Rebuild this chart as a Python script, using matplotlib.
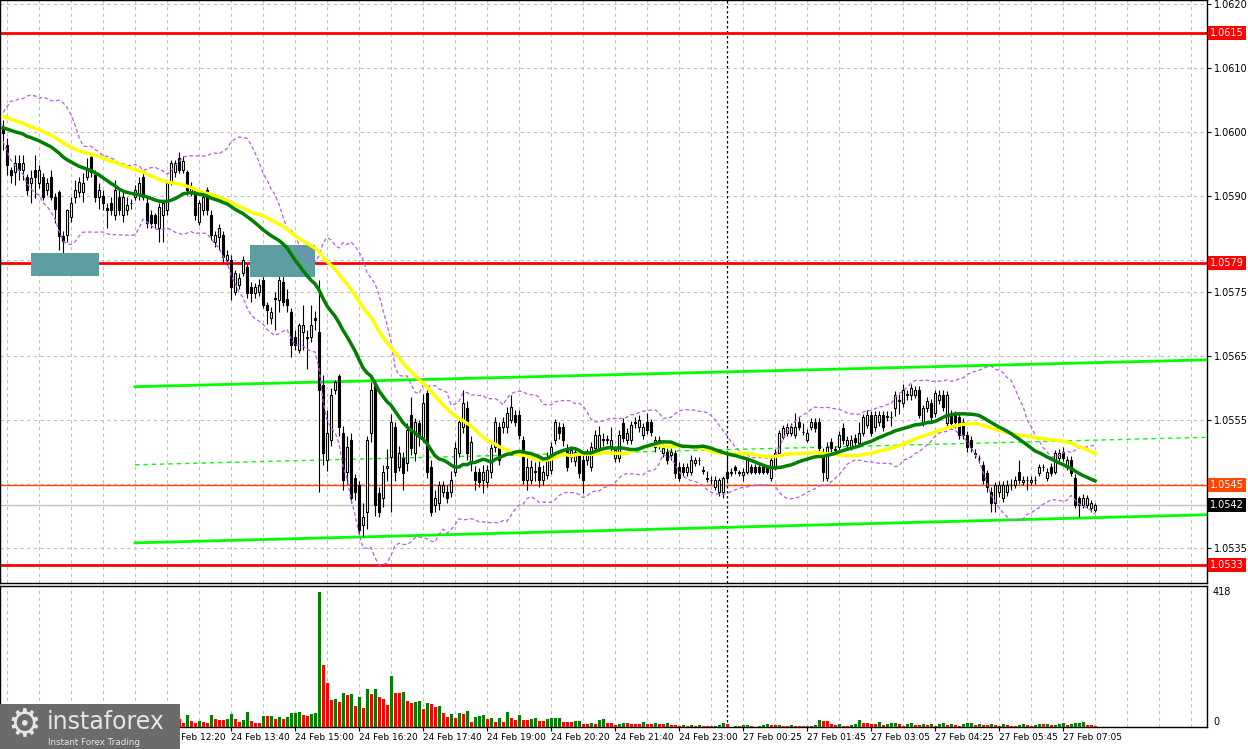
import numpy as np
import pandas as pd
import matplotlib.pyplot as plt
from matplotlib.patches import Rectangle
from matplotlib.transforms import blended_transform_factory

# M5 candles, prices in points above 1.05000 (1 point = 0.00001)
opens = [1008, 980, 941, 938, 952, 941, 930, 920, 941, 920, 930, 909, 930, 898, 906, 838, 839, 867, 898, 906,
         906, 930, 961, 933, 898, 900, 882, 889, 870, 898, 870, 878, 889, 898, 902, 930, 889, 870, 870, 850,
         870, 878, 920, 938, 959, 941, 938, 906, 909, 859, 878, 909, 870, 828, 836, 839, 800, 800, 750, 761,
         780, 789, 758, 748, 750, 769, 730, 709, 739, 738, 765, 739, 719, 680, 659, 688, 680, 680, 709, 688,
         605, 488, 519, 597, 619, 530, 469, 519, 459, 448, 386, 406, 530, 608, 436, 428, 475, 492, 539, 477,
         491, 483, 558, 498, 545, 523, 592, 477, 417, 420, 438, 438, 438, 469, 498, 539, 569, 485, 469, 469,
         456, 453, 469, 508, 539, 539, 539, 550, 558, 558, 519, 456, 456, 470, 477, 456, 464, 472, 519, 539,
         539, 506, 492, 486, 498, 488, 488, 477, 506, 506, 520, 519, 506, 491, 491, 545, 519, 519, 546, 539,
         527, 547, 547, 508, 519, 498, 500, 495, 498, 477, 477, 469, 469, 483, 488, 472, 459, 456, 445, 438,
         438, 469, 467, 477, 467, 464, 469, 477, 477, 477, 477, 477, 459, 477, 498, 523, 530, 530, 527, 547,
         531, 519, 539, 547, 547, 500, 459, 516, 503, 508, 538, 511, 508, 522, 514, 530, 542, 558, 539, 547,
         558, 555, 555, 569, 580, 577, 590, 589, 589, 597, 547, 569, 577, 561, 581, 589, 545, 558, 558, 555,
         547, 527, 519, 498, 491, 480, 467, 438, 420, 438, 428, 438, 448, 448, 469, 453, 456, 453, 456, 467,
         477, 459, 477, 469, 491, 500, 477, 488, 459, 428, 417, 417, 412, 409]
highs = [1019, 990, 945, 964, 964, 964, 935, 941, 964, 948, 936, 928, 941, 905, 910, 845, 880, 898, 925, 930,
         936, 959, 962, 941, 920, 909, 889, 898, 925, 909, 909, 898, 895, 917, 930, 938, 898, 878, 873, 889,
         894, 925, 956, 956, 969, 962, 941, 922, 912, 894, 906, 914, 878, 845, 856, 845, 816, 808, 785, 780,
         806, 795, 765, 764, 770, 780, 735, 727, 750, 787, 775, 755, 725, 690, 702, 730, 690, 730, 720, 769,
         620, 566, 600, 613, 622, 540, 525, 530, 466, 455, 420, 525, 610, 613, 445, 480, 505, 560, 547, 510,
         500, 545, 586, 553, 550, 590, 597, 488, 440, 455, 455, 448, 470, 515, 555, 597, 580, 525, 478, 475,
         480, 480, 512, 555, 547, 555, 570, 589, 566, 566, 525, 490, 488, 485, 490, 480, 500, 515, 552, 547,
         545, 512, 510, 508, 505, 495, 505, 515, 534, 540, 530, 527, 539, 510, 534, 553, 537, 548, 555, 558,
         545, 561, 552, 525, 525, 512, 506, 506, 503, 485, 483, 483, 495, 492, 492, 478, 470, 462, 462, 460,
         462, 500, 475, 480, 472, 475, 492, 482, 482, 480, 480, 480, 492, 505, 534, 542, 545, 545, 561, 555,
         545, 536, 553, 553, 553, 506, 516, 522, 510, 533, 545, 525, 527, 528, 547, 560, 566, 564, 564, 564,
         564, 564, 564, 595, 590, 606, 597, 606, 603, 603, 574, 586, 583, 597, 597, 597, 595, 565, 564, 561,
         553, 533, 525, 505, 496, 486, 472, 445, 453, 455, 455, 456, 458, 462, 488, 462, 462, 462, 462, 482,
         482, 475, 483, 503, 505, 508, 494, 493, 465, 432, 435, 433, 425, 420]
lows = [972, 933, 920, 917, 925, 925, 902, 889, 897, 912, 894, 902, 894, 858, 816, 808, 828, 860, 889, 898,
        890, 925, 930, 890, 880, 878, 850, 870, 863, 870, 859, 870, 880, 894, 894, 894, 850, 850, 850, 828,
        828, 870, 917, 930, 936, 936, 902, 900, 863, 855, 870, 870, 831, 820, 816, 795, 792, 738, 745, 755,
        775, 740, 735, 740, 744, 725, 700, 700, 691, 719, 728, 719, 648, 660, 655, 659, 630, 672, 690, 438,
        480, 470, 510, 590, 525, 440, 450, 420, 425, 372, 367, 380, 515, 400, 398, 414, 455, 406, 455, 470,
        440, 470, 495, 486, 510, 515, 460, 400, 406, 410, 430, 420, 430, 462, 492, 530, 488, 470, 440, 445,
        436, 445, 460, 500, 480, 530, 530, 545, 540, 520, 450, 440, 450, 455, 445, 448, 458, 465, 512, 520,
        510, 470, 485, 478, 460, 436, 480, 470, 500, 500, 510, 512, 500, 485, 485, 515, 512, 512, 538, 532,
        520, 528, 525, 500, 505, 492, 482, 488, 460, 455, 462, 462, 464, 478, 480, 466, 453, 450, 440, 432,
        428, 455, 462, 466, 462, 455, 465, 465, 465, 465, 465, 465, 455, 472, 495, 520, 525, 525, 522, 535,
        527, 515, 535, 532, 500, 455, 455, 500, 495, 503, 513, 505, 503, 510, 508, 525, 538, 525, 533, 540,
        533, 548, 540, 556, 560, 570, 582, 582, 584, 553, 540, 562, 548, 555, 575, 564, 540, 538, 538, 520,
        520, 500, 500, 490, 483, 450, 438, 406, 406, 430, 422, 432, 440, 443, 450, 448, 440, 448, 450, 462,
        470, 455, 462, 465, 486, 486, 472, 462, 412, 398, 412, 412, 406, 406]
closes = [998, 948, 933, 952, 941, 952, 909, 928, 930, 941, 898, 920, 898, 880, 838, 830, 878, 889, 909, 922,
          920, 941, 938, 898, 909, 889, 878, 878, 909, 878, 898, 886, 889, 909, 920, 898, 858, 858, 858, 883,
          889, 920, 952, 952, 941, 954, 909, 914, 870, 889, 898, 878, 839, 839, 850, 805, 808, 758, 780, 772,
          800, 748, 748, 758, 761, 730, 722, 719, 741, 769, 734, 730, 667, 667, 698, 698, 678, 698, 707, 597,
          498, 530, 589, 609, 539, 456, 508, 428, 438, 378, 398, 519, 597, 417, 406, 469, 478, 547, 469, 498,
          467, 534, 506, 547, 523, 577, 469, 406, 428, 448, 448, 428, 456, 506, 547, 577, 498, 516, 456, 453,
          469, 472, 506, 547, 488, 547, 561, 570, 547, 527, 456, 477, 477, 469, 456, 469, 491, 508, 547, 530,
          519, 477, 503, 500, 467, 456, 498, 508, 527, 527, 519, 520, 519, 503, 527, 522, 530, 542, 547, 550,
          539, 534, 531, 519, 511, 506, 488, 500, 467, 459, 469, 477, 488, 488, 487, 471, 458, 457, 456, 456,
          459, 459, 469, 472, 468, 469, 488, 469, 469, 469, 469, 469, 488, 498, 530, 538, 539, 539, 539, 539,
          532, 530, 547, 538, 506, 469, 508, 506, 504, 527, 519, 519, 519, 516, 530, 555, 558, 530, 558, 558,
          539, 556, 554, 589, 581, 597, 589, 600, 597, 558, 569, 580, 555, 592, 589, 570, 589, 545, 547, 527,
          527, 508, 508, 497, 490, 456, 445, 420, 448, 448, 448, 448, 449, 456, 456, 456, 457, 456, 457, 477,
          476, 469, 467, 498, 498, 491, 488, 467, 417, 417, 428, 428, 420, 417]
volumes = [30, 42, 35, 28, 33, 25, 38, 30, 27, 40, 33, 29, 36, 45, 52, 40, 36, 30, 28, 33,
           26, 31, 38, 29, 25, 34, 22, 27, 30, 24, 36, 21, 19, 28, 33, 40, 37, 25, 31, 28,
           35, 26, 24, 30, 26, 12, 38, 20, 12, 20, 16, 13, 38, 26, 23, 22, 26, 41, 26, 16,
           23, 46, 20, 13, 12, 35, 34, 35, 26, 32, 26, 32, 43, 44, 47, 38, 35, 41, 42, 418,
           190, 137, 82, 85, 78, 106, 100, 101, 66, 94, 60, 118, 103, 118, 94, 88, 69, 159, 106, 105,
           109, 81, 75, 78, 79, 57, 75, 72, 63, 66, 44, 32, 41, 29, 44, 41, 50, 16, 32, 35,
           38, 26, 29, 16, 29, 16, 47, 29, 23, 38, 23, 22, 26, 27, 20, 19, 26, 27, 28, 29,
           16, 15, 14, 19, 20, 10, 9, 13, 10, 23, 24, 13, 12, 7, 10, 12, 11, 10, 9, 8,
           16, 10, 9, 13, 10, 9, 13, 7, 6, 4, 7, 4, 7, 4, 6, 4, 3, 2, 4, 7,
           13, 10, 1, 4, 4, 5, 7, 4, 1, 4, 7, 10, 7, 6, 7, 4, 3, 5, 4, 4,
           3, 4, 3, 6, 23, 19, 18, 10, 7, 10, 4, 3, 7, 10, 23, 13, 12, 10, 9, 16,
           7, 10, 11, 12, 9, 4, 10, 11, 7, 6, 10, 7, 10, 4, 10, 11, 7, 10, 7, 4,
           10, 11, 12, 7, 10, 7, 6, 10, 7, 3, 10, 7, 4, 2, 7, 10, 7, 4, 7, 10,
           8, 9, 6, 7, 8, 11, 7, 10, 11, 13, 14, 6, 5, 2]
# estimated closes before the visible window, only used to start the indicators
warmup_closes = [1.06062, 1.06048, 1.06055, 1.06040, 1.06058, 1.06050, 1.06065, 1.06045, 1.06052, 1.06038,
                 1.06060, 1.06047, 1.06054, 1.06043, 1.06051, 1.06058, 1.06042, 1.06049, 1.06056, 1.06044,
                 1.06012, 1.05995, 1.06018, 1.05990, 1.06008, 1.06020, 1.05985, 1.06005, 1.06015, 1.05992,
                 1.06010, 1.05998, 1.06022, 1.05988, 1.06006, 1.06016, 1.05994, 1.06009, 1.06019, 1.05991,
                 1.06003, 1.06013, 1.05997, 1.06011, 1.06024, 1.06002, 1.06014, 1.06021, 1.06026]

time_ticks = [41, 57, 73, 89, 105, 121, 137, 153, 169, 185, 201, 217, 233, 249, 265]
time_labels = ['24 Feb 12:20', '24 Feb 13:40', '24 Feb 15:00',
               '24 Feb 16:20', '24 Feb 17:40', '24 Feb 19:00', '24 Feb 20:20', '24 Feb 21:40',
               '24 Feb 23:00', '27 Feb 00:25', '27 Feb 01:45', '27 Feb 03:05', '27 Feb 04:25',
               '27 Feb 05:45', '27 Feb 07:05']
price_grid = [1.0620, 1.0610, 1.0600, 1.0590, 1.0580, 1.0575, 1.0565, 1.0555, 1.0545, 1.0535]
price_ticks = [1.0620, 1.0610, 1.0600, 1.0590, 1.0575, 1.0565, 1.0555, 1.0535]

red_levels = [1.06154, 1.05795, 1.05324]
red_labels = ['1.0615', '1.0579', '1.0533']
open_level, open_label = 1.05449, '1.0545'
bid_level, bid_label = 1.05417, '1.0542'

# channel lines: (start index, end index, start price, end price)
channel_top = (33, 301, 1.05602, 1.05644)
channel_mid = (33, 301, 1.05480, 1.05523)
channel_low = (33, 301, 1.05358, 1.05402)

# highlighted zones: (first index, last index, low price, high price)
zones = [(7.0, 24.0, 1.05775, 1.05811), (61.8, 78.0, 1.05773, 1.05823)]
separator_idx = 181

n = len(closes)
idx = np.arange(n)
o = 1.05 + np.array(opens) / 1e5
h = 1.05 + np.array(highs) / 1e5
l = 1.05 + np.array(lows) / 1e5
c = 1.05 + np.array(closes) / 1e5
v = np.array(volumes)

serie = pd.Series(list(warmup_closes) + list(c))
k = len(warmup_closes)
ma30 = serie.rolling(30, min_periods=1).mean().values[k:]
ma50 = serie.rolling(50, min_periods=1).mean().values[k:]
mid = serie.rolling(20, min_periods=1).mean()
sd = serie.rolling(20, min_periods=1).std(ddof=0)
bb_up = (mid + 2 * sd).values[k:]
bb_dn = (mid - 2 * sd).values[k:]

W, H = 1248, 749
fig = plt.figure(figsize=(W / 100, H / 100), dpi=100, facecolor='white')
ax = fig.add_axes([0, 1 - 583 / H, 1207 / W, 583 / H])
axv = fig.add_axes([0, 22 / H, 1207 / W, 141 / H])

xmin, xmax = -0.75, 301
grid_kw = dict(color='#C0C0C0', lw=0.8, ls=(0, (3, 3)), zorder=0)

# ---- price panel ----
for p in price_grid:
    ax.axhline(p, **grid_kw)
for gx in range(1, 302, 8):
    ax.axvline(gx, **grid_kw)
    axv.axvline(gx, **grid_kw)
ax.axvline(separator_idx, color='black', lw=0.9, ls=(0, (2, 2)), zorder=1)
axv.axvline(separator_idx, color='black', lw=0.9, ls=(0, (2, 2)), zorder=1)

for lv in red_levels:
    ax.axhline(lv, color='#FF0000', lw=2, zorder=1)
ax.axhline(open_level, color='#FF4500', lw=1, zorder=1)
ax.axhline(bid_level, color='#C0C0C0', lw=1, zorder=1)

for ch in (channel_top, channel_low):
    ax.plot([ch[0], ch[1]], [ch[2], ch[3]], color='#00FF00', lw=2, zorder=2)
ax.plot([channel_mid[0], channel_mid[1]], [channel_mid[2], channel_mid[3]],
        color='#00FF00', lw=1, ls=(0, (3, 3)), zorder=2)

ax.vlines(idx, l, h, color='black', lw=0.8, zorder=3)
bull = c >= o
ax.bar(idx, np.abs(c - o), bottom=np.minimum(o, c), width=0.6,
       color=np.where(bull, 'white', 'black'), edgecolor='black', linewidth=0.8, zorder=4)

for x0, x1, p0, p1 in zones:
    ax.add_patch(Rectangle((x0, p0), x1 - x0, p1 - p0, facecolor='#5F9EA0',
                           edgecolor='none', zorder=5))

ax.plot(idx, bb_up, color='#B45EE6', lw=0.9, ls=(0, (3, 2)), zorder=6)
ax.plot(idx, bb_dn, color='#B45EE6', lw=0.9, ls=(0, (3, 2)), zorder=6)
ax.plot(idx, ma50, color='#FFFF00', lw=2.5, zorder=7)
ax.plot(idx, ma30, color='#007F00', lw=2.5, zorder=8)

ax.set_xlim(xmin, xmax)
ax.set_ylim(1.0620 - 579 / 64000, 1.0620 + 4 / 64000)
ax.set_xticks([])
ax.yaxis.tick_right()
ax.set_yticks(price_ticks)
ax.set_yticklabels([f'{p:.4f}' for p in price_ticks])
ax.tick_params(axis='y', length=3, width=0.8, pad=2, labelsize=7, colors='black')

tr = blended_transform_factory(ax.transAxes, ax.transData)
for lv, txt in zip(red_levels, red_labels):
    ax.text(1.0025, lv, txt, transform=tr, fontsize=7, color='white', va='center', ha='left',
            bbox=dict(boxstyle='square,pad=0.2', fc='#FF0000', ec='none'), clip_on=False)
ax.text(1.0025, open_level, open_label, transform=tr, fontsize=7, color='white', va='center',
        bbox=dict(boxstyle='square,pad=0.2', fc='#FF4500', ec='none'), clip_on=False)
ax.text(1.0025, bid_level, bid_label, transform=tr, fontsize=7, color='white', va='center',
        bbox=dict(boxstyle='square,pad=0.2', fc='black', ec='none'), clip_on=False)

# ---- volume panel ----
vol_colors = ['#008000'] + ['#008000' if v[i] > v[i - 1] else '#FF0000' for i in range(1, n)]
axv.bar(idx, v, width=0.75, color=vol_colors, zorder=3)
axv.axhline(0, **grid_kw)
axv.set_xlim(xmin, xmax)
axv.set_ylim(0, 435.6)
axv.set_yticks([])
trv = blended_transform_factory(axv.transAxes, axv.transData)
axv.text(1.005, 418, '418', transform=trv, fontsize=7, va='center', ha='left')
axv.text(1.005, 16, '0', transform=trv, fontsize=7, va='center', ha='left')
axv.set_xticks(time_ticks)
axv.set_xticklabels(time_labels, ha='left', fontsize=6.5)
axv.tick_params(axis='x', length=3, width=0.8, pad=1.5)

for a in (ax, axv):
    for s in a.spines.values():
        s.set_color('black')
        s.set_linewidth(1)

# ---- logo ----
fig.patches.append(Rectangle((0, 0), 180 / W, 45 / H, transform=fig.transFigure,
                             facecolor='#6B6B6B', edgecolor='none', zorder=10))
fig.text(24 / W, 23 / H, '\u2699', fontsize=27, color='#E6E6E6', ha='center', va='center', zorder=11)
fig.text(47 / W, 20 / H, 'instaforex', fontsize=17, color='#E6E6E6', ha='left', va='baseline', zorder=11)
fig.text(48 / W, 4 / H, 'Instant Forex Trading', fontsize=6.3, color='#E6E6E6', ha='left',
         va='baseline', zorder=11)

fig.savefig('out.png', dpi=100, facecolor='white')
